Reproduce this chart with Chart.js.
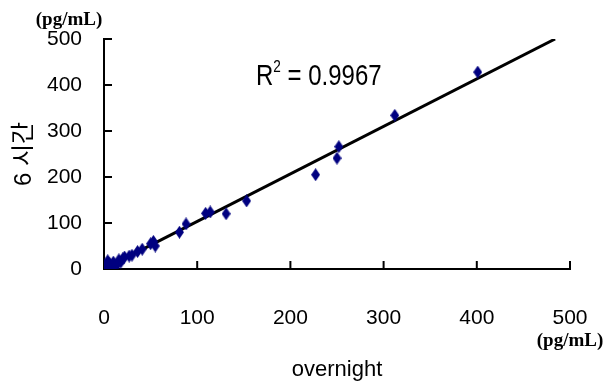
<!DOCTYPE html>
<html>
<head>
<meta charset="utf-8">
<script src="https://cdn.jsdelivr.net/npm/chart.js@4"></script>
<style>
  html, body { margin: 0; padding: 0; background: #fff; }
</style>
</head>
<body>
<canvas id="calibChart" width="611" height="384"></canvas>
<script>
// values (pg/mL)
const overnight = [0, 2, 3, 4, 6, 8, 10, 12, 15, 16, 18, 20, 22, 27, 30, 36, 41, 50, 53, 55,
                   81, 88, 109, 114, 131, 153, 227, 250, 252, 312, 401];
const sixHour   = [2, 5, 9, 18, 12, 5, 15, 8, 12, 20, 15, 22, 26, 28, 30, 38, 43, 55, 60, 50,
                   80, 98, 121, 124, 120, 148, 205, 241, 266, 334, 428];
const trendX = [0, 484];
const trendY = [0, 500];
const xTicks = [0, 100, 200, 300, 400, 500];
const yTicks = [0, 100, 200, 300, 400, 500];
const rSquared = '0.9967';

const sans = "'Liberation Sans', Arial, sans-serif";

// tall thin diamond marker
const marker = document.createElement('canvas');
marker.width = 9; marker.height = 13;
const mctx = marker.getContext('2d');
mctx.fillStyle = '#000080';
mctx.beginPath();
mctx.moveTo(4.5, 0); mctx.lineTo(9, 6.5); mctx.lineTo(4.5, 13); mctx.lineTo(0, 6.5);
mctx.closePath(); mctx.fill();

// squeezed text, the original uses a narrow face
function narrowText(ctx, text, x, y, size, squeeze) {
    ctx.save();
    ctx.translate(x, y);
    ctx.scale(squeeze, 1);
    ctx.font = size + 'px ' + sans;
    ctx.fillText(text, 0, 0);
    const w = ctx.measureText(text).width * squeeze;
    ctx.restore();
    return w;
}

const decor = {
    id: 'decor',
    afterDraw(chart) {
        const { ctx, scales: { x, y } } = chart;
        ctx.save();
        ctx.strokeStyle = '#000';
        ctx.lineWidth = 2;
        // inward tick marks
        xTicks.forEach(v => {
            if (v === 0) return;
            const px = x.getPixelForValue(v);
            ctx.beginPath();
            ctx.moveTo(px, y.bottom);
            ctx.lineTo(px, y.bottom - 8);
            ctx.stroke();
        });
        yTicks.forEach(v => {
            if (v === 0) return;
            const py = y.getPixelForValue(v);
            ctx.beginPath();
            ctx.moveTo(x.left, py);
            ctx.lineTo(x.left + 8, py);
            ctx.stroke();
        });

        // R^2 label
        ctx.fillStyle = '#000';
        ctx.textBaseline = 'alphabetic';
        ctx.textAlign = 'left';
        let cx = 256;
        cx += narrowText(ctx, 'R', cx, 85, 30, 0.8);
        cx += narrowText(ctx, '2', cx, 72, 17, 0.8);
        narrowText(ctx, ' = ' + rSquared, cx, 85, 30, 0.8);

        // units
        ctx.font = 'bold 19px "Liberation Serif", serif';
        ctx.textAlign = 'center';
        ctx.textBaseline = 'middle';
        ctx.fillText('(pg/mL)', 69, 20);
        ctx.fillText('(pg/mL)', 570, 341);
        ctx.restore();
    }
};

new Chart(document.getElementById('calibChart'), {
    type: 'scatter',
    data: {
        datasets: [{
            label: '6 시간',
            data: overnight.map((v, i) => ({ x: v, y: sixHour[i] })),
            pointStyle: marker,
            pointRadius: 5,
            order: 1
        }, {
            type: 'line',
            label: 'fit',
            data: trendX.map((v, i) => ({ x: v, y: trendY[i] })),
            borderColor: '#000',
            borderWidth: 3,
            pointRadius: 0,
            order: 2
        }]
    },
    options: {
        responsive: false,
        animation: false,
        layout: { padding: { top: 39, right: 41, left: 0, bottom: 0 } },
        plugins: {
            legend: { display: false },
            tooltip: { enabled: false }
        },
        scales: {
            x: {
                type: 'linear',
                min: 0,
                max: 500,
                afterFit: s => { s.height = 115; s.paddingLeft = 0; s.paddingRight = 0; },
                ticks: {
                    stepSize: 100,
                    color: '#000',
                    padding: 37,
                    font: { family: sans, size: 21 }
                },
                grid: { drawOnChartArea: false, drawTicks: false },
                border: { color: '#000', width: 2 },
                title: {
                    display: true,
                    text: 'overnight',
                    color: '#000',
                    padding: { top: 0, bottom: 1 },
                    font: { family: sans, size: 22 }
                }
            },
            y: {
                min: 0,
                max: 500,
                afterFit: s => { s.width = 104; s.paddingTop = 0; s.paddingBottom = 0; },
                ticks: {
                    stepSize: 100,
                    color: '#000',
                    padding: 22,
                    font: { family: sans, size: 21 }
                },
                grid: { drawOnChartArea: false, drawTicks: false },
                border: { color: '#000', width: 2 },
                title: {
                    display: true,
                    text: '6 시간',
                    color: '#000',
                    padding: { top: 10, bottom: 0 },
                    font: { family: "'Liberation Sans', 'Noto Sans CJK KR', sans-serif", size: 24 }
                }
            }
        }
    },
    plugins: [decor]
});
</script>
</body>
</html>
